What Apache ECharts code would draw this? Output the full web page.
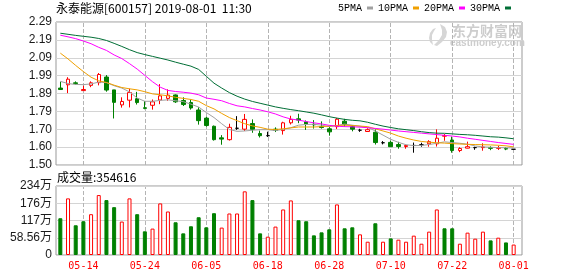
<!DOCTYPE html>
<html><head><meta charset="utf-8">
<script src="https://cdn.jsdelivr.net/npm/echarts@6/dist/echarts.min.js"></script>
<style>html,body{margin:0;padding:0;background:#fff}#c{width:578px;height:276px}</style>
</head><body><div id="c"></div>
<script>
const dates = ['05-09','05-10','05-13','05-14','05-15','05-16','05-17','05-20','05-21','05-22',
'05-23','05-24','05-27','05-28','05-29','05-30','05-31','06-03','06-04','06-05',
'06-06','06-10','06-11','06-12','06-13','06-14','06-17','06-18','06-19','06-20',
'06-21','06-24','06-25','06-26','06-27','06-28','07-01','07-02','07-03','07-04',
'07-05','07-08','07-09','07-10','07-11','07-12','07-15','07-16','07-17','07-18',
'07-19','07-22','07-23','07-24','07-25','07-26','07-29','07-30','07-31','08-01'];
const xTickLabels = ['05-14','05-24','06-05','06-18','06-28','07-10','07-22','08-01'];
const opens  = [1.925,1.943,1.954,1.911,1.940,1.955,1.986,1.915,1.832,1.858,
1.866,1.816,1.830,1.859,1.868,1.887,1.856,1.845,1.804,1.759,
1.714,1.650,1.640,1.703,1.698,1.729,1.674,1.662,1.698,1.690,
1.733,1.755,1.738,1.725,1.712,1.700,1.712,1.742,1.712,1.692,
1.685,1.681,1.623,1.625,1.613,1.602,1.608,1.612,1.617,1.617,
1.659,1.638,1.580,1.593,1.596,1.596,1.596,1.592,1.591,1.587];
const closes = [1.917,1.974,1.950,1.917,1.954,2.000,1.914,1.846,1.851,1.900,
1.845,1.813,1.849,1.882,1.886,1.849,1.834,1.815,1.745,1.718,
1.640,1.643,1.708,1.703,1.752,1.697,1.662,1.662,1.691,1.733,
1.752,1.748,1.727,1.722,1.707,1.683,1.753,1.723,1.698,1.692,
1.695,1.624,1.623,1.601,1.602,1.608,1.608,1.612,1.629,1.648,
1.663,1.580,1.591,1.601,1.596,1.599,1.592,1.596,1.588,1.587];
const lows   = [1.917,1.897,1.944,1.910,1.930,1.940,1.905,1.757,1.817,1.818,
1.834,1.808,1.806,1.836,1.855,1.843,1.826,1.806,1.723,1.712,
1.635,1.612,1.635,1.694,1.688,1.678,1.652,1.655,1.682,1.668,
1.724,1.731,1.694,1.701,1.701,1.662,1.699,1.712,1.686,1.683,
1.685,1.613,1.614,1.601,1.590,1.590,1.568,1.601,1.601,1.602,
1.634,1.568,1.571,1.592,1.584,1.579,1.582,1.583,1.582,1.587];
const highs  = [1.960,1.985,1.962,1.938,1.962,2.008,1.997,1.915,1.874,1.922,
1.904,1.853,1.862,1.947,1.918,1.890,1.874,1.862,1.819,1.766,
1.718,1.665,1.728,1.770,1.782,1.752,1.690,1.684,1.708,1.739,
1.772,1.783,1.746,1.748,1.741,1.709,1.760,1.755,1.720,1.700,
1.703,1.697,1.632,1.634,1.628,1.608,1.624,1.623,1.637,1.697,
1.671,1.657,1.598,1.629,1.601,1.620,1.603,1.607,1.598,1.588];
const ma5  = [1.962,1.950,1.945,1.944,1.948,1.958,1.955,1.938,1.925,1.904,
1.870,1.852,1.852,1.857,1.860,1.855,1.850,1.836,1.820,1.790,
1.762,1.728,1.696,1.686,1.688,1.692,1.695,1.695,1.690,1.697,
1.706,1.720,1.724,1.725,1.720,1.712,1.718,1.726,1.720,1.714,
1.708,1.688,1.665,1.642,1.625,1.612,1.607,1.608,1.613,1.620,
1.628,1.624,1.620,1.615,1.605,1.600,1.598,1.596,1.595,1.594];
const ma10 = [2.118,2.086,2.050,2.016,1.985,1.965,1.956,1.941,1.928,1.921,
1.915,1.905,1.893,1.888,1.882,1.874,1.868,1.862,1.852,1.828,
1.810,1.785,1.762,1.745,1.728,1.716,1.708,1.698,1.696,1.700,
1.705,1.710,1.710,1.710,1.712,1.715,1.718,1.720,1.718,1.715,
1.712,1.700,1.688,1.676,1.660,1.648,1.638,1.630,1.626,1.623,
1.621,1.618,1.616,1.614,1.613,1.612,1.611,1.609,1.606,1.600];
const ma20 = [2.217,2.208,2.198,2.185,2.170,2.150,2.133,2.108,2.088,2.060,
2.030,1.995,1.960,1.930,1.912,1.906,1.902,1.897,1.888,1.870,
1.863,1.855,1.840,1.827,1.821,1.812,1.804,1.794,1.782,1.766,
1.754,1.748,1.740,1.733,1.727,1.719,1.714,1.712,1.711,1.709,
1.706,1.702,1.698,1.693,1.688,1.684,1.680,1.676,1.672,1.668,
1.664,1.660,1.655,1.648,1.642,1.636,1.630,1.624,1.619,1.614];
const ma30 = [2.228,2.222,2.216,2.211,2.206,2.199,2.188,2.172,2.155,2.137,
2.121,2.110,2.100,2.090,2.080,2.068,2.057,2.046,2.028,1.990,
1.952,1.925,1.900,1.880,1.864,1.851,1.841,1.831,1.821,1.813,
1.806,1.800,1.793,1.786,1.777,1.767,1.759,1.752,1.747,1.744,
1.736,1.725,1.715,1.707,1.700,1.695,1.690,1.684,1.679,1.676,
1.675,1.672,1.669,1.667,1.664,1.660,1.656,1.654,1.650,1.645];
const volumes = [1248000,1922000,1009000,1146000,1385000,2035000,1864000,1624000,1135000,1922000,
1385000,804000,896000,1751000,1477000,1111000,735000,975000,1282000,940000,
1419000,930000,1409000,1409000,2161000,1864000,735000,622000,964000,1546000,
1853000,1180000,1146000,667000,769000,872000,1717000,906000,940000,701000,
451000,1077000,451000,564000,520000,451000,657000,383000,793000,1546000,
906000,906000,383000,759000,554000,793000,496000,588000,427000,354616];
const volDir = [-1,1,-1,-1,1,1,-1,-1,1,1, -1,-1,1,1,1,-1,-1,-1,-1,-1,
-1,1,1,1,1,-1,-1,1,1,1, 1,-1,-1,-1,-1,-1,1,-1,-1,1,
1,-1,1,-1,1,1,1,1,1,1, -1,-1,1,1,1,1,-1,1,-1,1];
const priceTickLabels = ['1.50','1.60','1.70','1.79','1.89','1.99','2.09','2.19','2.29'];
const volTickLabels = ['0','58.56万','117万','176万','234万'];
const priceMin = 1.50, priceMax = 2.29;
const volMax = 2342400;
const stockTitle = '永泰能源[600157] 2019-08-01  11:30';
const maNames = ['5PMA','10PMA','20PMA','30PMA'];

const RED = '#ff0000', GREEN = '#008000';
const maColors = ['#a0a0a0','#f0a000','#ff00ff','#006e35'];
const maData = [ma5, ma10, ma20, ma30];
const gridLineColor = '#d4d4d4';
const dashColor = '#b4b4b4';
const tickIdx = xTickLabels.map(l => dates.indexOf(l));
const isTick = (idx) => tickIdx.indexOf(idx) >= 0;

const chart = echarts.init(document.getElementById('c'), null, {renderer: 'canvas'});
const labelFont = "'Liberation Sans', 'Noto Sans CJK SC', sans-serif";
const MAIN_H = 143, VOL_H = 69;
const dashTicks = (len) => ({show: true, inside: true, length: len, alignWithLabel: true, interval: isTick,
  lineStyle: {color: dashColor, width: 1, type: 'dashed', dashOffset: 0}});
const clearLine = {show: true, lineStyle: {color: 'rgba(0,0,0,0)', width: 1}};

chart.setOption({
  animation: false,
  backgroundColor: '#fff',
  title: [
    {text: stockTitle, left: 56, top: 2, padding: 0,
     textStyle: {fontSize: 12, fontWeight: 'normal', color: '#000', fontFamily: "'Noto Sans CJK SC', sans-serif"}},
    {text: '成交量:' + volumes[volumes.length - 1], left: 57, top: 171, padding: 0,
     textStyle: {fontSize: 12, fontWeight: 'normal', color: '#000', fontFamily: "'Noto Sans CJK SC', sans-serif"}}
  ],
  legend: {
    data: maNames, left: 338, top: 3, padding: 0, align: 'right', icon: 'rect',
    itemWidth: 6, itemHeight: 3, itemGap: 5, selectedMode: false,
    textStyle: {fontFamily: "'Liberation Mono', monospace", fontSize: 10, color: '#000', padding: 0}
  },
  graphic: [
    {type: 'polygon', silent: true, z: 0, shape: {points: [[440,24],[445,27],[447,32],[446,37],[442,42],[437,46],[434,45],[439,40],[442,35],[442,30]]}, style: {fill: '#d6d6d6'}},
    {type: 'polygon', silent: true, z: 0, shape: {points: [[433,29],[430,33],[429,38],[430,42],[433,45],[432,40],[432,35],[434,31],[436,28]]}, style: {fill: '#d6d6d6'}},
    {type: 'text', silent: true, z: 0, left: 452, top: 24, style: {text: '东方财富网', fill: '#cdcdcd', font: "bold 14px 'Noto Sans CJK SC'"}},
    {type: 'text', silent: true, z: 0, left: 450, top: 38, style: {text: 'eastmoney.com', fill: '#cdcdcd', font: "bold 10px 'Liberation Sans'"}}
  ],
  grid: [
    {left: 56, top: 22, width: 466, height: MAIN_H, show: true, z: -1, borderColor: '#999', borderWidth: 1, backgroundColor: 'rgba(0,0,0,0)'},
    {left: 56.5, top: 22, width: 461, height: MAIN_H},
    {left: 56, top: 186, width: 466, height: VOL_H, show: true, z: -1, borderColor: '#999', borderWidth: 1, backgroundColor: 'rgba(0,0,0,0)'},
    {left: 56.5, top: 186, width: 461, height: VOL_H}
  ],
  xAxis: [
    {gridIndex: 0, type: 'value', min: 0, max: 1, show: false},
    {gridIndex: 1, type: 'category', data: dates, boundaryGap: true,
     axisLine: clearLine, axisTick: dashTicks(MAIN_H - 1),
     axisLabel: {show: false, interval: isTick}, splitLine: {show: false}},
    {gridIndex: 2, type: 'value', min: 0, max: 1, show: false},
    {gridIndex: 3, type: 'category', data: dates, boundaryGap: true,
     axisLine: clearLine, axisTick: dashTicks(VOL_H - 1), splitLine: {show: false},
     axisLabel: {show: true, interval: isTick, color: RED, margin: 6,
       fontSize: 10, fontFamily: "'DejaVu Sans Mono', monospace"}}
  ],
  yAxis: [
    {gridIndex: 0, type: 'value', min: 0, max: priceTickLabels.length - 1, interval: 1,
     axisLine: {show: false}, axisTick: {show: false},
     axisLabel: {formatter: v => priceTickLabels[v], color: '#1a1a1a', fontSize: 12, fontFamily: labelFont, margin: 4},
     splitLine: {show: true, lineStyle: {color: gridLineColor, width: 1}}},
    {gridIndex: 1, type: 'value', min: priceMin, max: priceMax, show: false, splitLine: {show: false}},
    {gridIndex: 2, type: 'value', min: 0, max: volTickLabels.length - 1, interval: 1,
     axisLine: {show: false}, axisTick: {show: false},
     axisLabel: {formatter: v => volTickLabels[v], color: '#1a1a1a', fontSize: 12, fontFamily: labelFont, margin: 4},
     splitLine: {show: true, lineStyle: {color: gridLineColor, width: 1}}},
    {gridIndex: 3, type: 'value', min: 0, max: volMax, show: false, splitLine: {show: false}}
  ],
  series: [
    {name: 'K', type: 'candlestick', xAxisIndex: 1, yAxisIndex: 1, barWidth: 4,
     data: dates.map((d, i) => [opens[i], closes[i], lows[i], highs[i]]),
     itemStyle: {color: '#fff', color0: GREEN, borderColor: RED, borderColor0: GREEN, borderColorDoji: '#000', borderWidth: 1}},
    ...maNames.map((n, k) => ({
      name: n, type: 'line', xAxisIndex: 1, yAxisIndex: 1, data: maData[k],
      symbol: 'none', showSymbol: false, smooth: false, z: 3,
      lineStyle: {color: maColors[k], width: 1}, itemStyle: {color: maColors[k]}
    })),
    {name: 'VOL', type: 'bar', xAxisIndex: 3, yAxisIndex: 3, barWidth: 4,
     data: volumes.map((v, i) => ({value: v, itemStyle: volDir[i] > 0
       ? {color: '#fff', borderColor: RED, borderWidth: 1}
       : {color: GREEN, borderColor: GREEN, borderWidth: 1}}))}
  ]
});
</script>
</body></html>
